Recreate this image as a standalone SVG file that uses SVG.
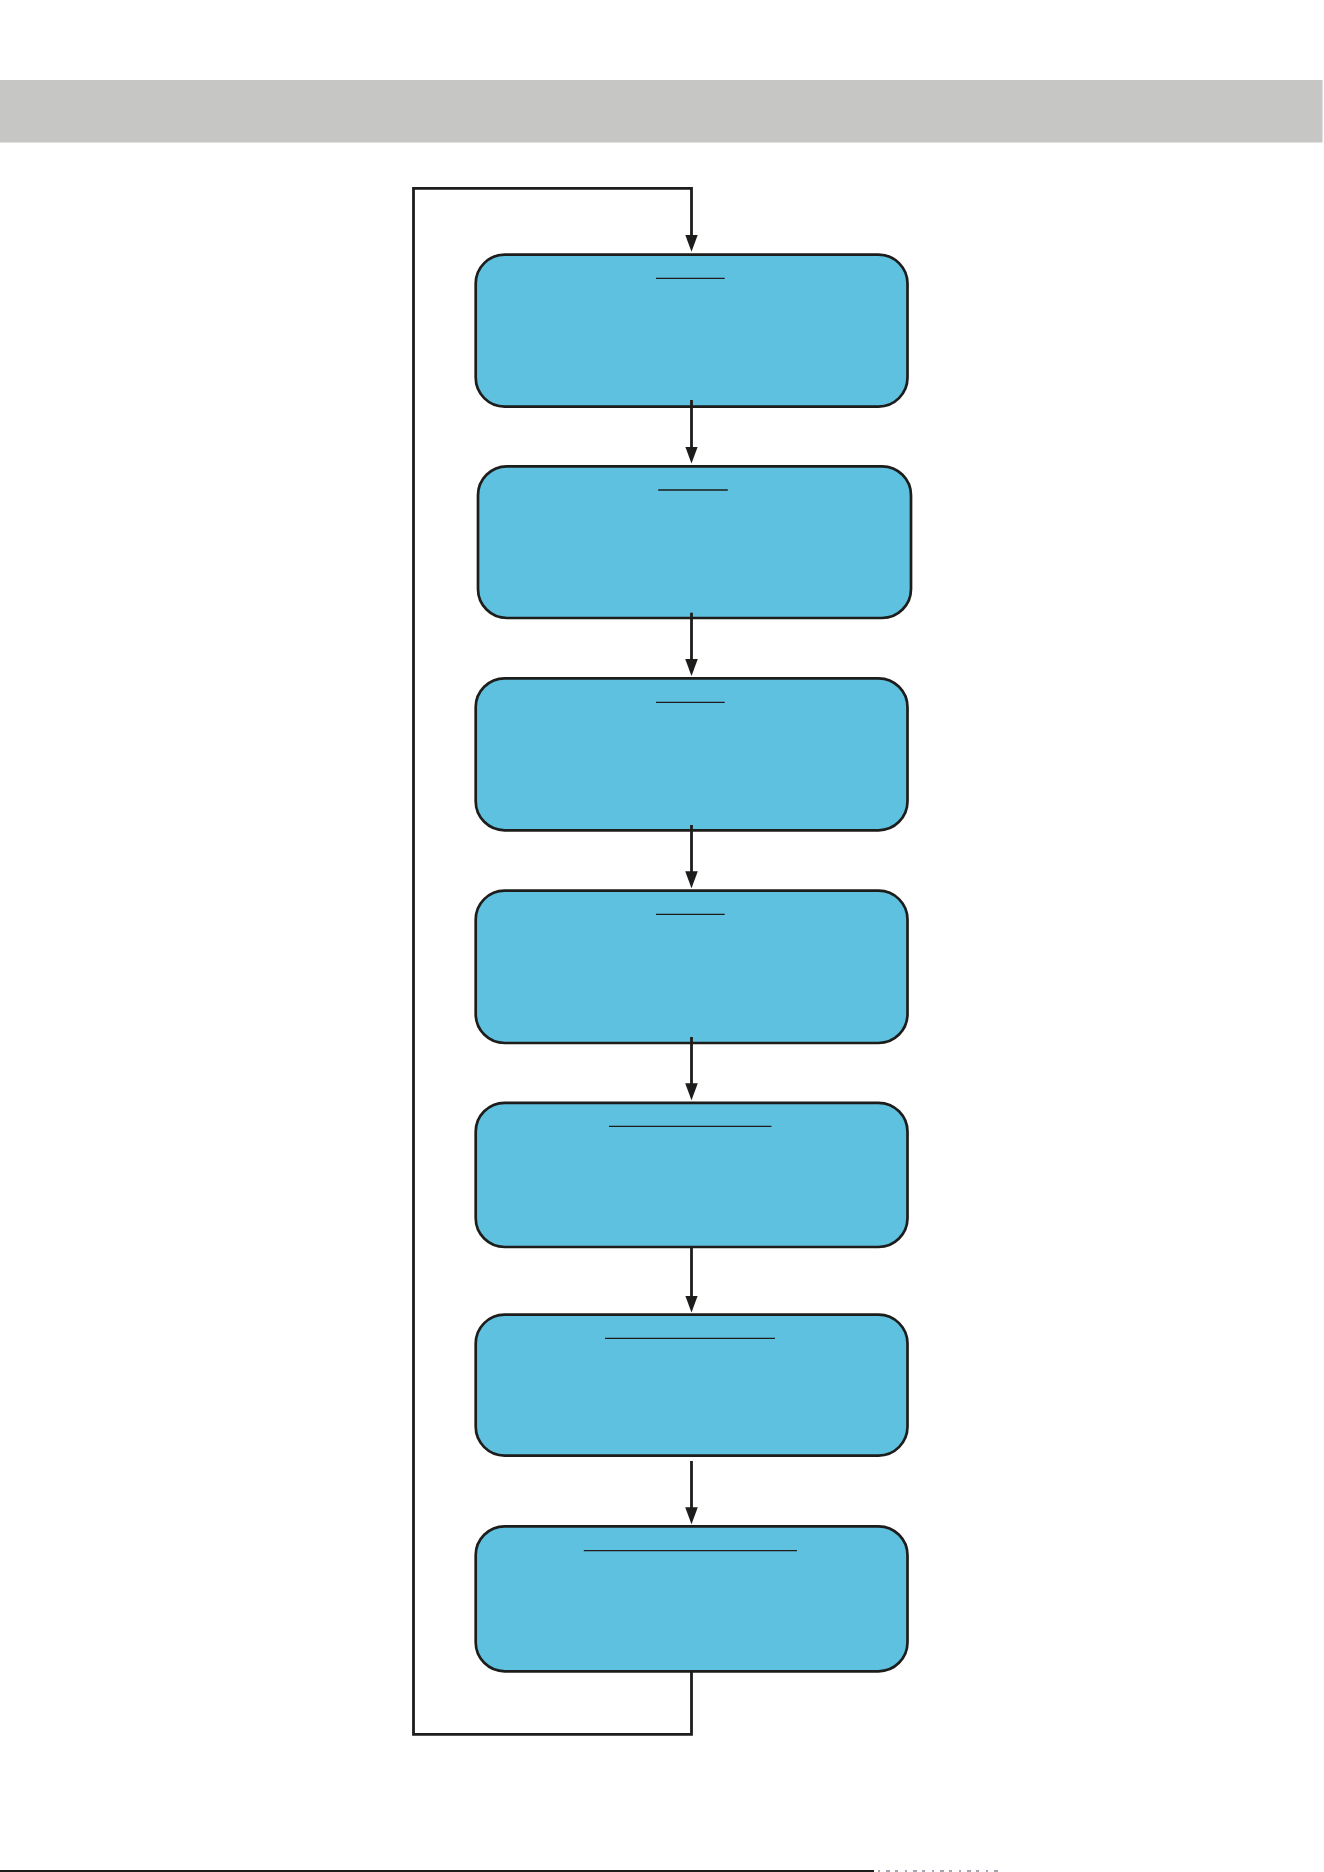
<svg xmlns="http://www.w3.org/2000/svg" width="1324" height="1872" viewBox="0 0 1324 1872">
  <style>
    .box { fill: #5FC1E0; stroke: #1D1D1B; stroke-width: 2.7; }
    .ul { stroke: #1D1D1B; stroke-width: 1.3; fill: none; }
    .conn { stroke: #1D1D1B; stroke-width: 2.8; fill: none; }
  </style>
  <defs>
    <marker id="arrow" markerUnits="userSpaceOnUse" viewBox="0 -7 17 14" markerWidth="17" markerHeight="14" refX="7" refY="0" orient="auto">
      <path d="M0,-6.3 L17,0 L0,6.3 z" fill="#1D1D1B"/>
    </marker>
  </defs>
  <rect width="1324" height="1872" fill="#FFFFFF"/>
  <rect id="header-bar" x="0" y="80" width="1322.5" height="62.5" fill="#C6C6C4"/>

  <g id="nodes">
    <g id="node1">
      <rect class="box" x="475.7" y="254.6" width="431.8" height="152" rx="29" ry="29"/>
      <line class="ul" x1="656" y1="278.3" x2="724.7" y2="278.3"/>
    </g>
    <g id="node2">
      <rect class="box" x="478" y="466.3" width="433" height="151.7" rx="29" ry="29"/>
      <line class="ul" x1="658.2" y1="490" x2="727.8" y2="490"/>
    </g>
    <g id="node3">
      <rect class="box" x="475.7" y="678.3" width="431.8" height="152" rx="29" ry="29"/>
      <line class="ul" x1="656" y1="702.3" x2="724.7" y2="702.3"/>
    </g>
    <g id="node4">
      <rect class="box" x="475.7" y="890.6" width="431.8" height="152.4" rx="29" ry="29"/>
      <line class="ul" x1="656" y1="914.3" x2="724.7" y2="914.3"/>
    </g>
    <g id="node5">
      <rect class="box" x="475.7" y="1102.8" width="431.8" height="144.2" rx="29" ry="29"/>
      <line class="ul" x1="609" y1="1126.3" x2="771.4" y2="1126.3"/>
    </g>
    <g id="node6">
      <rect class="box" x="475.7" y="1314.6" width="431.8" height="141" rx="29" ry="29"/>
      <line class="ul" x1="605" y1="1338.3" x2="775" y2="1338.3"/>
    </g>
    <g id="node7">
      <rect class="box" x="475.7" y="1526.3" width="431.8" height="145" rx="29" ry="29"/>
      <line class="ul" x1="583.8" y1="1550.7" x2="797" y2="1550.7" stroke-width="2"/>
    </g>
  </g>

  <g id="connectors">
    <path class="conn" d="M691.5,1672 V1734.3 H413.5 V188.4 H691.5 V241.7" marker-end="url(#arrow)"/>
    <line class="conn" x1="691.5" y1="400" x2="691.5" y2="453.5" marker-end="url(#arrow)"/>
    <line class="conn" x1="691.5" y1="612.7" x2="691.5" y2="666" marker-end="url(#arrow)"/>
    <line class="conn" x1="691.5" y1="825" x2="691.5" y2="878.3" marker-end="url(#arrow)"/>
    <line class="conn" x1="691.5" y1="1037" x2="691.5" y2="1090.3" marker-end="url(#arrow)"/>
    <line class="conn" x1="691.5" y1="1248" x2="691.5" y2="1302.5" marker-end="url(#arrow)"/>
    <line class="conn" x1="691.5" y1="1461" x2="691.5" y2="1514.3" marker-end="url(#arrow)"/>
  </g>

  <line id="footer-rule" x1="0" y1="1871" x2="874" y2="1871" stroke="#1D1D1B" stroke-width="2"/>
  <line id="footer-marks" x1="878" y1="1871" x2="1000" y2="1871" stroke="#6A6A80" stroke-width="2" stroke-dasharray="2 6 4 5 3 7" opacity="0.6"/>
</svg>
